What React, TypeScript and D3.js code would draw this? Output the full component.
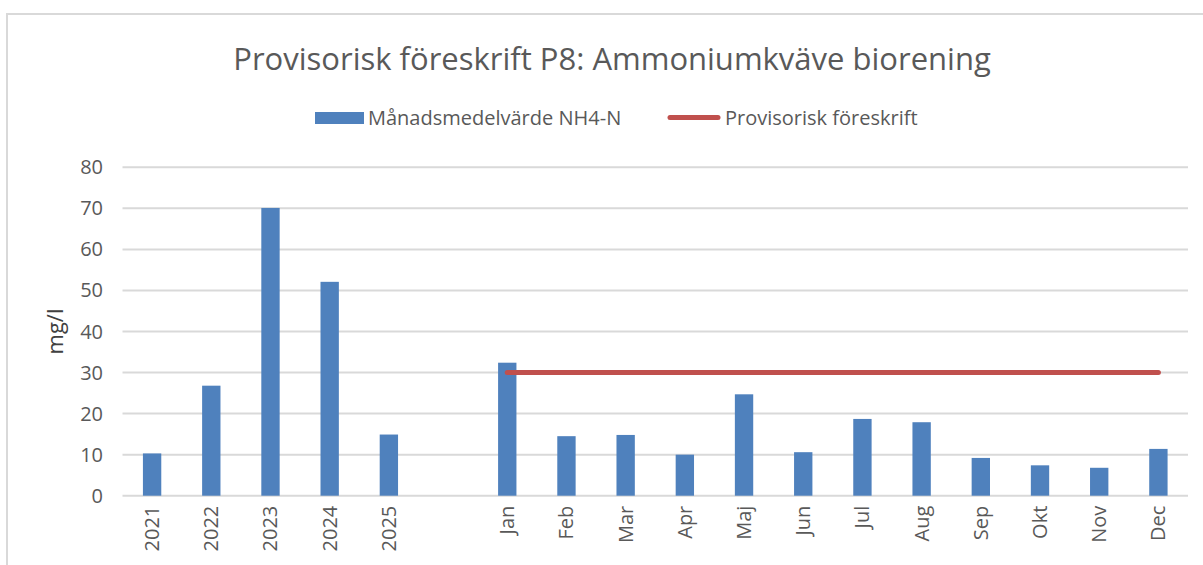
import React from "react";
import * as d3 from "d3";

const categories = ["2021", "2022", "2023", "2024", "2025", "", "Jan", "Feb", "Mar", "Apr", "Maj", "Jun", "Jul", "Aug", "Sep", "Okt", "Nov", "Dec"];
const monthlyMean: (number | null)[] = [10.3, 26.8, 70.1, 52.1, 14.9, null, 32.4, 14.5, 14.8, 10.0, 24.7, 10.6, 18.7, 17.9, 9.2, 7.4, 6.8, 11.4];
const limitCategories = ["Jan", "Feb", "Mar", "Apr", "Maj", "Jun", "Jul", "Aug", "Sep", "Okt", "Nov", "Dec"];
const limitValues = [30, 30, 30, 30, 30, 30, 30, 30, 30, 30, 30, 30];
const yTicks = [0, 10, 20, 30, 40, 50, 60, 70, 80];

const title = "Provisorisk föreskrift P8: Ammoniumkväve biorening";
const seriesBarName = "Månadsmedelvärde NH4-N";
const seriesLineName = "Provisorisk föreskrift";
const yLabel = "mg/l";

const W = 1203;
const H = 565;
const FONT = "'Open Sans', sans-serif";
const TEXT = "#595959";
const GRID = "#d9d9d9";
const BLUE = "#4f81bd";
const RED = "#c0504d";

export default function App() {
  const keys = categories.map((c, i) => `${i}:${c}`);
  const x = d3.scaleBand<string>().domain(keys).range([122.5, 1188]).paddingInner(0).paddingOuter(0);
  const y = d3.scaleLinear().domain([0, 80]).range([495.7, 167.3]);
  const bw = x.bandwidth();
  const barW = bw * 0.31;
  const center = (i: number) => (x(keys[i]) as number) + bw / 2;

  const lineGen = d3
    .line<number>()
    .x((_, i) => center(categories.indexOf(limitCategories[i])))
    .y((d) => y(d));

  return (
    <svg width={W} height={H} style={{ position: "absolute", left: 0, top: 0, background: "#fff" }} fontFamily={FONT}>
      <rect x={0} y={0} width={W} height={H} fill="#fff" />
      <rect x={7} y={14} width={1210} height={700} fill="none" stroke={GRID} strokeWidth={2} />
      <text x={612} y={70} textAnchor="middle" fontSize={31} fill={TEXT}>
        {title}
      </text>

      {/* legend */}
      <rect x={315} y={112} width={49} height={12} fill={BLUE} />
      <text x={368} y={124.5} fontSize={20} fill={TEXT}>
        {seriesBarName}
      </text>
      <line x1={670} x2={718} y1={117.5} y2={117.5} stroke={RED} strokeWidth={5} strokeLinecap="round" />
      <text x={725} y={124.5} fontSize={20} fill={TEXT}>
        {seriesLineName}
      </text>

      {/* grid */}
      {yTicks.map((t) => (
        <g key={t}>
          <line x1={122.5} x2={1188} y1={y(t)} y2={y(t)} stroke={GRID} strokeWidth={2} />
          <text x={103} y={y(t)} dy="0.35em" textAnchor="end" fontSize={20} fill={TEXT}>
            {t}
          </text>
        </g>
      ))}

      <text
        transform={`translate(63, ${(y(0) + y(80)) / 2}) rotate(-90)`}
        textAnchor="middle"
        fontSize={22}
        fill="#404040"
      >
        {yLabel}
      </text>

      {/* bars */}
      {monthlyMean.map((v, i) =>
        v == null ? null : (
          <rect key={i} x={center(i) - barW / 2} y={y(v)} width={barW} height={y(0) - y(v)} fill={BLUE} />
        )
      )}

      {/* limit line */}
      <path d={lineGen(limitValues) || ""} fill="none" stroke={RED} strokeWidth={5} strokeLinecap="round" />

      {/* x labels */}
      {categories.map((c, i) =>
        c === "" ? null : (
          <text
            key={i}
            transform={`translate(${center(i)}, ${y(0) + 10}) rotate(-90)`}
            textAnchor="end"
            dy="0.35em"
            fontSize={20}
            fill={TEXT}
          >
            {c}
          </text>
        )
      )}
    </svg>
  );
}
